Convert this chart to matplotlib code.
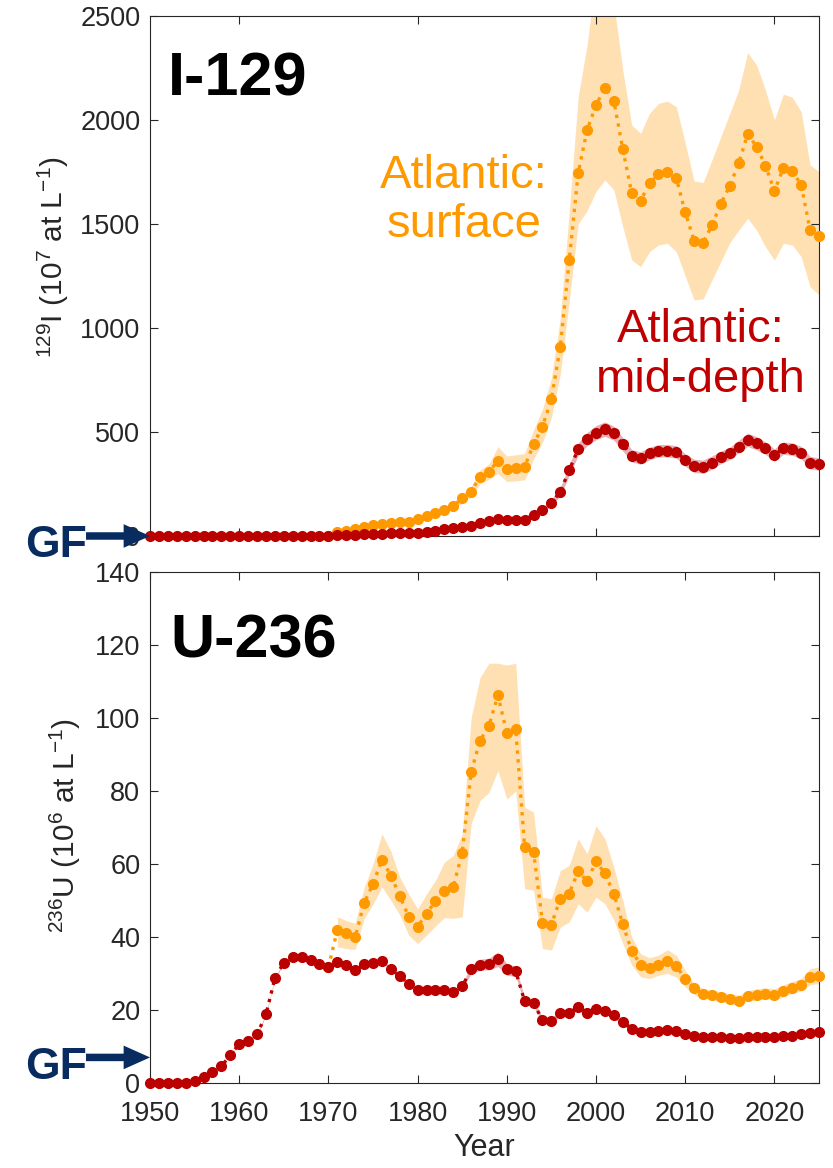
import numpy as np
import matplotlib
matplotlib.use('Agg')
import matplotlib.pyplot as plt

plt.rcParams['font.family'] = ['Liberation Sans', 'DejaVu Sans']
plt.rcParams['mathtext.fontset'] = 'custom'
plt.rcParams['mathtext.rm'] = 'Liberation Sans'
plt.rcParams['mathtext.it'] = 'Liberation Sans:italic'
plt.rcParams['mathtext.bf'] = 'Liberation Sans:bold'

# ---- data ----
years = np.arange(1950, 2026)          # mid-depth series, 1950-2025
years_surf = np.arange(1970, 2026)     # surface series, 1970-2025

# I-129 (1e7 at/L)
i129_mid = [0, 0, 0, 0, 0, 0, 0, 0, 0, 0,
            0, 0, 0, 0, 0, 0, 0, 0, 0, 0,
            2, 3, 5, 7, 8, 10, 10, 13, 13, 14,
            16, 21, 26, 32, 37, 45, 50, 64, 71, 83,
            77, 77, 77, 103, 125, 160, 213, 317, 417, 466,
            497, 514, 494, 441, 386, 375, 397, 410, 410, 404,
            365, 337, 333, 353, 378, 397, 430, 462, 446, 422,
            389, 422, 418, 401, 353, 345]
i129_mid_err = [0, 0, 0, 0, 0, 0, 0, 0, 0, 0,
                0, 0, 0, 0, 0, 0, 0, 0, 0, 0,
                0, 0, 0, 0, 0, 0, 0, 0, 0, 0,
                0, 0, 0, 0, 0, 4, 5, 6, 7, 8,
                8, 8, 8, 10, 12, 15, 20, 25, 30, 32,
                34, 35, 34, 32, 30, 30, 30, 30, 30, 30,
                30, 32, 32, 32, 30, 30, 30, 32, 32, 30,
                30, 30, 30, 30, 30, 30]
i129_surf = [2, 18, 26, 34, 43, 51, 56, 62, 66, 65,
             82, 98, 112, 125, 144, 181, 213, 285, 309, 362,
             321, 329, 333, 441, 526, 659, 910, 1327, 1744, 1952,
             2072, 2155, 2091, 1861, 1648, 1612, 1696, 1740, 1752, 1720,
             1556, 1420, 1410, 1494, 1598, 1683, 1792, 1933, 1872, 1780,
             1659, 1768, 1755, 1688, 1471, 1442]
i129_surf_hi = [2, 20, 29, 37, 47, 56, 61, 68, 73, 71,
                90, 108, 124, 138, 160, 202, 238, 318, 346, 430,
                385, 390, 397, 510, 610, 760, 1050, 1560, 2112, 2361,
                2700, 2750, 2560, 2240, 1976, 1936, 2032, 2080, 2091, 2064,
                1889, 1707, 1699, 1808, 1920, 2032, 2144, 2324, 2264, 2144,
                2000, 2124, 2110, 2040, 1784, 1752]
i129_surf_lo = [2, 16, 23, 31, 39, 46, 51, 56, 60, 59,
                74, 88, 100, 112, 128, 160, 188, 252, 272, 300,
                262, 265, 270, 370, 450, 570, 780, 1130, 1500, 1564,
                1657, 1712, 1664, 1487, 1327, 1295, 1367, 1399, 1407, 1367,
                1250, 1135, 1140, 1230, 1320, 1410, 1470, 1527, 1471, 1390,
                1327, 1407, 1399, 1343, 1198, 1159]

# U-236 (1e6 at/L)
u236_mid = [0, 0, 0, 0, 0.1, 0.5, 1.6, 2.9, 4.6, 7.6,
            10.7, 11.5, 13.3, 18.8, 28.7, 33.0, 34.6, 34.4, 33.7, 32.7,
            31.7, 33.1, 32.2, 30.9, 32.5, 32.8, 33.4, 31.2, 29.3, 27.1,
            25.5, 25.6, 25.6, 25.5, 24.9, 26.5, 31.1, 32.4, 32.6, 33.9,
            31.1, 30.6, 22.4, 21.9, 17.2, 17.0, 19.1, 19.3, 20.7, 19.3,
            20.3, 19.7, 18.6, 16.7, 14.9, 14.1, 14.0, 14.3, 14.5, 14.2,
            13.3, 12.8, 12.7, 12.7, 12.6, 12.4, 12.2, 12.6, 12.7, 12.7,
            12.7, 12.9, 13.0, 13.3, 13.8, 13.9]
u236_mid_err = [0, 0, 0, 0, 0, 0, 0, 0, 0, 0,
                0.3, 0.3, 0.3, 0.3, 0.3, 0.3, 0.3, 0.3, 0.3, 0.3,
                0.3, 0.3, 0.3, 0.3, 0.3, 0.3, 0.3, 0.3, 0.3, 0.3,
                0.3, 0.3, 0.3, 0.3, 0.3, 0.5, 1.2, 1.5, 1.6, 2.0,
                1.6, 1.4, 0.8, 0.8, 0.8, 0.8, 0.8, 0.8, 0.8, 0.8,
                0.8, 0.8, 0.8, 0.8, 0.8, 0.8, 0.8, 0.8, 0.8, 0.8,
                0.8, 0.8, 0.8, 0.8, 0.8, 0.8, 0.8, 0.8, 0.8, 0.8,
                0.8, 0.8, 0.8, 0.8, 0.8, 0.8]
u236_surf = [31.7, 41.9, 41.0, 39.9, 49.3, 54.5, 61.2, 56.8, 51.3, 45.5,
             42.8, 46.4, 49.8, 52.6, 53.7, 63.1, 85.2, 93.8, 97.9, 106.2,
             95.9, 96.9, 64.6, 63.4, 43.9, 43.4, 50.5, 51.9, 58.0, 55.3,
             60.7, 57.4, 51.8, 43.5, 36.2, 32.4, 31.5, 32.4, 33.3, 32.0,
             28.6, 25.9, 24.5, 24.1, 23.6, 23.1, 22.5, 23.8, 24.2, 24.5,
             24.2, 25.2, 26.1, 26.8, 28.9, 29.4]
u236_surf_hi = [31.7, 45.6, 44.5, 43.7, 53.5, 60.0, 68.3, 63.5, 56.4, 51.8,
                47.7, 51.8, 55.5, 60.5, 62.3, 68.2, 100.1, 111.1, 115.0, 115.0,
                114.5, 115.0, 75.5, 74.2, 50.9, 50.5, 58.2, 59.6, 66.9, 62.8,
                70.5, 66.9, 59.1, 50.0, 40.0, 35.4, 34.3, 35.0, 36.5, 35.0,
                30.9, 27.2, 25.9, 25.4, 25.0, 24.5, 24.0, 25.3, 25.8, 26.1,
                25.8, 26.9, 27.8, 28.6, 31.3, 31.8]
u236_surf_lo = [31.7, 37.3, 36.8, 36.6, 45.0, 49.0, 53.7, 50.0, 46.0, 40.5,
                38.2, 40.5, 43.0, 45.3, 45.1, 45.5, 71.0, 77.4, 79.6, 85.6,
                77.8, 80.0, 53.2, 52.8, 36.8, 36.4, 42.7, 44.1, 49.1, 46.8,
                50.9, 49.1, 44.6, 38.2, 32.3, 29.1, 28.6, 29.5, 30.0, 29.0,
                26.3, 24.2, 23.2, 22.8, 22.3, 21.8, 21.2, 22.4, 22.8, 23.0,
                22.8, 23.6, 24.5, 25.2, 27.0, 27.2]

ORANGE = '#FF9900'
ORANGE_BAND = '#FFE0B3'
RED = '#BB0000'
RED_BAND = '#E6B0B8'
NAVY = '#082C60'
GREY = '#262626'


def draw_panel(ax, mid, mid_err, surf, surf_lo, surf_hi):
    mid = np.array(mid)
    mid_err = np.array(mid_err)
    ax.fill_between(years_surf[1:], surf_lo[1:], surf_hi[1:], color=ORANGE_BAND,
                    lw=0, zorder=1)
    ax.fill_between(years, mid - mid_err, mid + mid_err, color=RED_BAND,
                    lw=0, zorder=1)
    ax.plot(years_surf, surf, ':', color=ORANGE, lw=2.4, marker='o', ms=7,
            mec=ORANGE, mfc=ORANGE, clip_on=False, zorder=3)
    ax.plot(years, mid, ':', color=RED, lw=2.4, marker='o', ms=7,
            mec=RED, mfc=RED, clip_on=False, zorder=4)
    ax.set_xlim(1950, 2025)
    ax.tick_params(direction='in', length=6, width=0.8, top=True, right=True,
                   labelsize=19.5, colors=GREY)
    ax.tick_params(axis='y', pad=7)
    ax.tick_params(axis='x', pad=13)
    for s in ax.spines.values():
        s.set_color(GREY)
        s.set_linewidth(0.8)


def gf_arrow(ax, yval):
    ax.annotate('', xy=(1950, yval), xycoords='data', xytext=(-64, 0),
                textcoords='offset pixels', annotation_clip=False, zorder=6,
                arrowprops=dict(arrowstyle='simple,head_length=0.95,head_width=0.85,tail_width=0.27',
                                mutation_scale=20, fc=NAVY, ec='none', lw=0,
                                shrinkA=0, shrinkB=0))
    ax.annotate('GF', xy=(1950, yval), xycoords='data', xytext=(-63, -10),
                textcoords='offset pixels', ha='right', va='center',
                fontsize=32, fontweight='bold', color=NAVY,
                annotation_clip=False, zorder=6)


fig = plt.figure(figsize=(8.33, 11.68), dpi=100)
ax1 = fig.add_axes([0.1801, 0.5411, 0.8031, 0.4452])
ax2 = fig.add_axes([0.1801, 0.0728, 0.8031, 0.4375])

# top panel: I-129
draw_panel(ax1, i129_mid, i129_mid_err, i129_surf, i129_surf_lo, i129_surf_hi)
ax1.set_ylim(0, 2500)
ax1.set_yticks([0, 500, 1000, 1500, 2000, 2500])
ax1.set_xticks([1960, 1980, 2000, 2020])
ax1.set_xticklabels([])
ax1.set_ylabel(r'$^{129}$I (10$^{7}$ at L$^{-1}$)', fontsize=21.5, color=GREY)
ax1.yaxis.set_label_coords(-0.118, 0.537)
ax1.text(0.027, 0.848, 'I-129', transform=ax1.transAxes, fontsize=44,
         fontweight='bold', color='black', va='baseline', ha='left')
ax1.text(1985.2, 1615, 'Atlantic:\nsurface', color=ORANGE, fontsize=34,
         ha='center', va='center', linespacing=1.15)
ax1.text(2011.7, 870, 'Atlantic:\nmid-depth', color='#C00000', fontsize=34,
         ha='center', va='center', linespacing=1.15)
gf_arrow(ax1, 0)

# bottom panel: U-236
draw_panel(ax2, u236_mid, u236_mid_err, u236_surf, u236_surf_lo, u236_surf_hi)
ax2.set_ylim(0, 140)
ax2.set_yticks(np.arange(0, 141, 20))
ax2.set_xticks(np.arange(1950, 2021, 10))
ax2.set_xlabel('Year', fontsize=22, color=GREY, labelpad=4)
ax2.set_ylabel(r'$^{236}$U (10$^{6}$ at L$^{-1}$)', fontsize=21.5, color=GREY)
ax2.yaxis.set_label_coords(-0.10, 0.503)
ax2.text(0.03, 0.832, 'U-236', transform=ax2.transAxes, fontsize=44,
         fontweight='bold', color='black', va='baseline', ha='left')
gf_arrow(ax2, 7)

fig.savefig('out.png', dpi=100)
